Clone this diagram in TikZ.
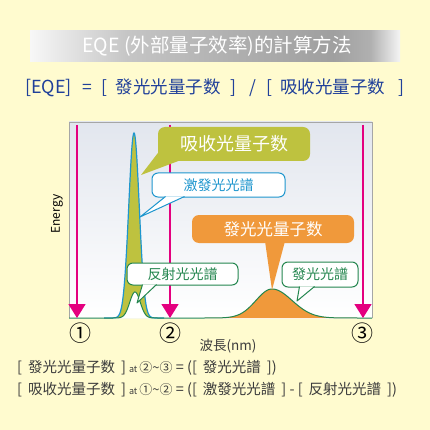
\documentclass[tikz,border=0pt]{standalone}
\usepackage{fontspec}
\setmainfont{Noto Sans CJK TC}
\usepackage{xcolor}
\usetikzlibrary{arrows.meta, calc}

\definecolor{bgyel}{HTML}{FFFBCF}
\definecolor{pinkmag}{HTML}{E4007F}
\definecolor{absgreen}{HTML}{BEC23F}
\definecolor{emorange}{HTML}{F0993B}
\definecolor{exblue}{HTML}{1E96CE}
\definecolor{rfgreen}{HTML}{24864F}
\definecolor{eqblue}{HTML}{20409A}
\definecolor{txtgray}{HTML}{3C3C3C}
\definecolor{plottop}{HTML}{E2E6EE}

\pgfdeclarehorizontalshading{bannershade}{100bp}{color(0bp)=(gray!6); color(25bp)=(gray!6);
  color(38bp)=(gray!45); color(52bp)=(gray!62); color(66bp)=(gray!75); color(71bp)=(gray!62);
  color(75bp)=(gray!8); color(100bp)=(gray!8)}

% callout tail: fill, line, base 1, base 2, tip
\newcommand{\calltail}[5]{%
  \fill[#1] (#3) -- (#5) -- (#4) -- cycle;
  \draw[#2] (#3) -- (#5) -- (#4);
}
\newcommand{\gap}{\hspace{6pt}}

\begin{document}
\begin{tikzpicture}[x=1pt, y=-1pt,
        title/.style={font=\fontsize{19.5}{21}\selectfont, text=white},
        formula/.style={anchor=west, inner sep=0pt, font=\fontsize{17.5}{19}\selectfont, text=eqblue},
        bigbox/.style={rectangle, rounded corners=7pt, text=white, font=\fontsize{18}{20}\selectfont},
        smallbox/.style={rectangle, rounded corners=6pt, fill=white, line width=1pt, font=\fontsize{14}{15}\selectfont},
        pinarrow/.style={draw=pinkmag, line width=1.6pt, -{Triangle[width=17pt,length=14pt]}},
        circnum/.style={font=\fontsize{22}{24}\selectfont, text=black},
        note/.style={anchor=west, text=txtgray, font=\fontsize{14.5}{16}\selectfont, inner sep=0pt},
        small/.style={font=\fontsize{10}{11}\selectfont}
    ]
    \useasboundingbox (0,0) rectangle (430,430);
    \fill[bgyel] (0,0) rectangle (430,430);

    % Title
    \shade[shading=bannershade] (30,31) rectangle (400,62);
    \node[title] (head) at (217,46) {EQE (外部量子效率)的計算方法};
    \node[formula] (eqe) at (25,88) {{\fontsize{18}{19}\selectfont[EQE]}\hspace{11pt}=\hspace{9pt}[\hspace{8pt}發光光量子数\hspace{10pt}]\hspace{13pt}/\hspace{10pt}[\hspace{8pt}吸收光量子数\hspace{13pt}]};

    % Plot area
    \fill[top color=plottop, bottom color=white] (69,122) rectangle (372,318);
    \draw[gray!70, line width=0.8pt] (69,318) -- (69,122) -- (372,122) -- (372,318);
    \node[rotate=90, font=\fontsize{12}{14}\selectfont] (ylab) at (57,214) {Energy};

    % Spectra
    \fill[absgreen] (104,318) -- plot[domain=104:164, samples=121] (\x, {318-185*exp(-((\x-134)^2)/55)}) -- cycle;
    \fill[white] (110,318) -- plot[domain=110:158, samples=81] (\x, {318-26*exp(-((\x-135)^2)/55)}) -- cycle;
    \draw[exblue, line width=1.2pt] plot[domain=104:164, samples=121] (\x, {318-185*exp(-((\x-134)^2)/55)});
    \fill[emorange] (205,318) -- plot[domain=205:272, samples=60] (\x, {318-29*exp(-((\x-272)^2)/(2*16^2))})
        -- plot[domain=272:372, samples=80] (\x, {318-29*exp(-((\x-272)^2)/(2*20^2))}) -- cycle;
    \draw[rfgreen, line width=1pt] plot[domain=69:164, samples=141] (\x, {318-26*exp(-((\x-135)^2)/55)})
        -- plot[domain=164:272, samples=90] (\x, {318-29*exp(-((\x-272)^2)/(2*16^2))})
        -- plot[domain=272:372, samples=80] (\x, {318-29*exp(-((\x-272)^2)/(2*20^2))});

    % Wavelength marks
    \coordinate (t1) at (77,125);  \coordinate (b1) at (77,318);
    \coordinate (t2) at (170,125); \coordinate (b2) at (170,318);
    \coordinate (t3) at (363,125); \coordinate (b3) at (363,318);
    \draw[pinarrow] (t1) -- (b1);
    \draw[pinarrow] (t2) -- (b2);
    \draw[pinarrow] (t3) -- (b3);
    \node[circnum] (n1) at (80,333) {①};
    \node[circnum] (n2) at (170,333) {②};
    \node[circnum] (n3) at (362,333) {③};
    \node[font=\fontsize{13.5}{15}\selectfont, text=txtgray] (xlab) at (228,346) {波長(nm)};

    % Callouts
    \node[bigbox, fill=absgreen, minimum width=152pt, minimum height=34pt] (absq) at (234,144) {吸收光量子数};
    \coordinate (absqtip) at (141,175);
    \calltail{absgreen}{draw=none}{$(absq.south west)+(3,-12)$}{$(absq.south west)+(28,-3)$}{absqtip}

    \node[smallbox, draw=exblue, text=exblue, minimum width=133pt, minimum height=24pt] (exsp) at (218.5,185) {激發光光譜};
    \coordinate (exsptip) at (140,217);
    \calltail{white}{exblue, line width=1pt, line join=round}{$(exsp.south west)+(14,-1)$}{$(exsp.south west)+(33,-1)$}{exsptip}

    \node[bigbox, fill=emorange, minimum width=162pt, minimum height=28pt, font=\fontsize{16.5}{18}\selectfont] (emq) at (273,229) {發光光量子数};
    \coordinate (emqtip) at (272,290);
    \calltail{emorange}{draw=none}{$(emq.south)+(-8,-2)$}{$(emq.south)+(12,-2)$}{emqtip}

    \node[smallbox, draw=rfgreen, text=rfgreen, minimum width=111pt, minimum height=22pt] (rfsp) at (182.5,274) {反射光光譜};
    \coordinate (rfsptip) at (137,303);
    \calltail{white}{rfgreen, line width=1pt, line join=round}{$(rfsp.south west)+(16,-1)$}{$(rfsp.south west)+(30,-1)$}{rfsptip}

    \node[smallbox, draw=rfgreen, text=rfgreen, minimum width=76pt, minimum height=25pt] (emsp) at (320,274.5) {發光光譜};
    \coordinate (emsptip) at (297,301);
    \calltail{white}{rfgreen, line width=1pt, line join=round}{$(emsp.south west)+(18,-1)$}{$(emsp.south west)+(33,-1)$}{emsptip}

    % Definitions
    \node[note] (def1) at (17,368) {[\gap 發光光量子数\gap]\hspace{3pt}{\small at {\fontsize{13}{14}\selectfont ②\textasciitilde③}} = ([\gap 發光光譜\gap])};
    \node[note] (def2) at (17,390) {[\gap 吸收光量子数\gap]\hspace{3pt}{\small at {\fontsize{13}{14}\selectfont ①\textasciitilde②}} = ([\gap 激發光光譜\gap] - [\gap 反射光光譜\gap])};
\end{tikzpicture}
\end{document}
